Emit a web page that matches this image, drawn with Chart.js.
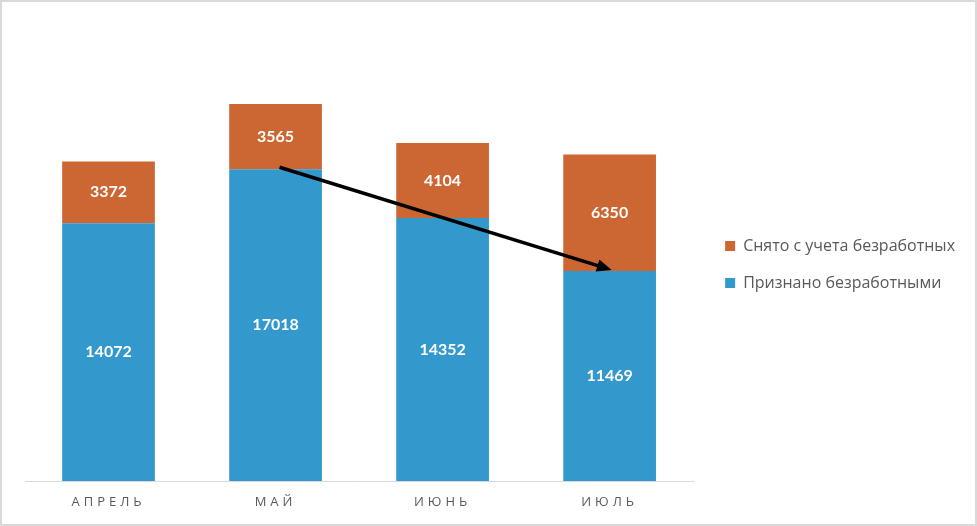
<!DOCTYPE html>
<html>
<head>
<meta charset="utf-8">
<script src="https://cdn.jsdelivr.net/npm/chart.js@4/dist/chart.umd.min.js"></script>
<style>
  html, body { margin: 0; padding: 0; background: #fff; }
  #wrap { position: relative; width: 977px; height: 526px; }
  #frame { position: absolute; left: 0; top: 0; width: 977px; height: 526px;
           box-sizing: border-box; border: 2px solid #d9d9d9; pointer-events: none; }
</style>
</head>
<body>
<div id="wrap">
  <canvas id="myChart" width="977" height="526"></canvas>
  <div id="frame"></div>
</div>
<script>
var months = ["АПРЕЛЬ", "МАЙ", "ИЮНЬ", "ИЮЛЬ"];
var recognized = [14072, 17018, 14352, 11469];
var removed = [3372, 3565, 4104, 6350];
var seriesNames = ["Признано безработными", "Снято с учета безработных"];
var yMax = 25000;

// white numbers in the middle of every segment
var segmentLabels = {
    id: 'segmentLabels',
    afterDatasetsDraw: function (chart) {
        var ctx = chart.ctx;
        ctx.save();
        ctx.letterSpacing = '0px';
        ctx.font = 'bold 16px Lato, "Open Sans", sans-serif';
        ctx.fillStyle = '#ffffff';
        ctx.textAlign = 'center';
        ctx.textBaseline = 'middle';
        chart.data.datasets.forEach(function (ds, di) {
            chart.getDatasetMeta(di).data.forEach(function (bar, i) {
                ctx.fillText(String(ds.data[i]), bar.x, (bar.y + bar.base) / 2);
            });
        });
        ctx.restore();
        // spaced-out capitals for the month axis (ticks are drawn after this)
        ctx.letterSpacing = '4px';
    },
    afterDraw: function (chart) {
        var ctx = chart.ctx;
        ctx.letterSpacing = '0px';
        // trend arrow from May to July, on top of the blue segments
        var meta = chart.getDatasetMeta(0);
        var a = meta.data[1], b = meta.data[3];
        var x1 = a.x + 4, y1 = a.y - 2, x2 = b.x + 2, y2 = b.y - 1;
        var ang = Math.atan2(y2 - y1, x2 - x1);
        var head = 16;
        ctx.save();
        ctx.strokeStyle = '#000';
        ctx.fillStyle = '#000';
        ctx.lineWidth = 3.5;
        ctx.beginPath();
        ctx.moveTo(x1, y1);
        ctx.lineTo(x2 - Math.cos(ang) * head * 0.8, y2 - Math.sin(ang) * head * 0.8);
        ctx.stroke();
        ctx.beginPath();
        ctx.moveTo(x2, y2);
        ctx.lineTo(x2 - head * Math.cos(ang - 0.4), y2 - head * Math.sin(ang - 0.4));
        ctx.lineTo(x2 - head * Math.cos(ang + 0.4), y2 - head * Math.sin(ang + 0.4));
        ctx.closePath();
        ctx.fill();
        ctx.restore();
    }
};

var ctx = document.getElementById("myChart");
var myChart = new Chart(ctx, {
    type: 'bar',
    data: {
        labels: months,
        datasets: [{
            label: seriesNames[0],
            data: recognized,
            backgroundColor: '#3398cc',
            barPercentage: 0.555,
            categoryPercentage: 1
        }, {
            label: seriesNames[1],
            data: removed,
            backgroundColor: '#cc6633',
            barPercentage: 0.555,
            categoryPercentage: 1
        }]
    },
    plugins: [segmentLabels],
    options: {
        responsive: false,
        animation: false,
        layout: {
            padding: { left: 25, top: 23, right: 12, bottom: 20 }
        },
        scales: {
            x: {
                stacked: true,
                grid: { display: false },
                border: { display: true, color: '#d9d9d9', width: 1 },
                ticks: {
                    z: 1,
                    color: '#595959',
                    padding: 5,
                    font: { family: '"Open Sans", sans-serif', size: 13 }
                },
                afterFit: function (scale) { scale.height = 25; }
            },
            y: {
                // hidden; only keeps a small gap before the legend
                display: false,
                stacked: true,
                position: 'right',
                min: 0,
                max: yMax,
                afterFit: function (scale) { scale.width = 11; }
            }
        },
        plugins: {
            legend: {
                position: 'right',
                reverse: true,
                labels: {
                    boxWidth: 10,
                    boxHeight: 10,
                    padding: 21,
                    color: '#595959',
                    font: { family: '"Open Sans", sans-serif', size: 16 }
                }
            },
            tooltip: { enabled: false }
        }
    }
});
</script>
</body>
</html>
